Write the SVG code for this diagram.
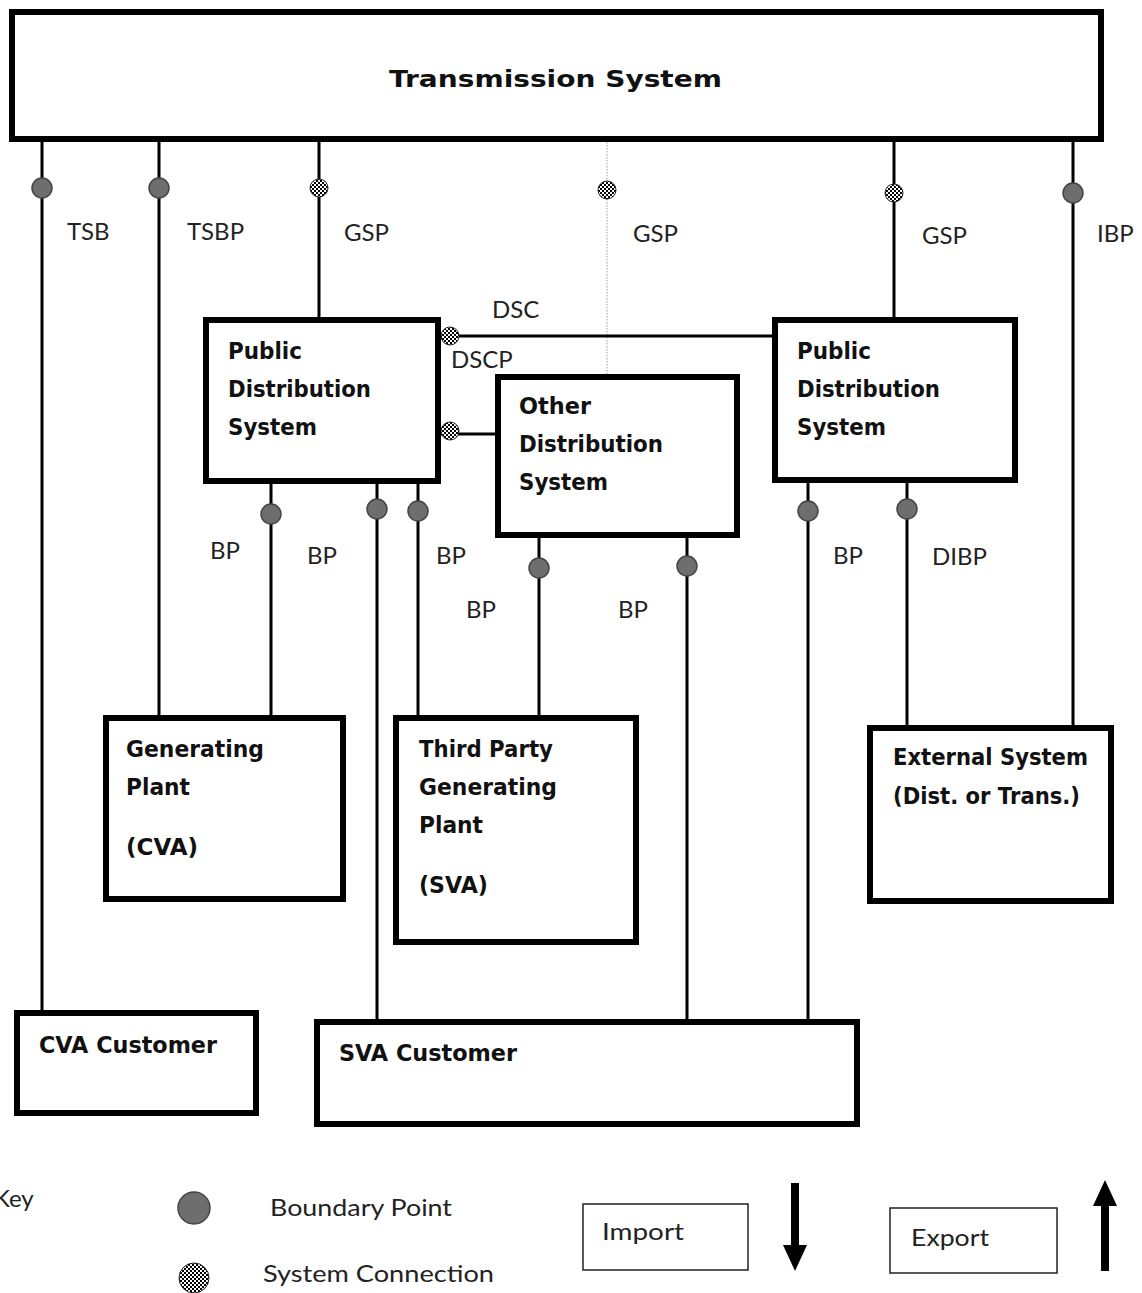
<svg xmlns="http://www.w3.org/2000/svg" width="1142" height="1293" viewBox="0 0 1142 1293">
<defs>
<pattern id="chk" width="4" height="4" patternUnits="userSpaceOnUse">
<rect width="4" height="4" fill="#fff"/>
<rect width="2" height="2" fill="#000"/>
<rect x="2" y="2" width="2" height="2" fill="#000"/>
</pattern>
<style>
.box{fill:#fff;stroke:#000;stroke-width:6}
.t{font-family:"DejaVu Sans","Liberation Sans",sans-serif;font-weight:bold;font-size:23px;fill:#111}
.l{font-family:Lato,"Liberation Sans",sans-serif;font-size:24px;fill:#222}
.ln{stroke:#000;stroke-width:3;fill:none}
.bp{fill:#6e6e6e;stroke:#444;stroke-width:1.5}
.sc{fill:url(#chk);stroke:#222;stroke-width:1}
.kb{fill:#fff;stroke:#222;stroke-width:1.5}
</style>
</defs>
<rect width="1142" height="1293" fill="#fff"/>

<g id="connectors">
<line class="ln" x1="42" y1="139" x2="42" y2="1013"/>
<line class="ln" x1="159" y1="139" x2="159" y2="718"/>
<line class="ln" x1="319" y1="139" x2="319" y2="320"/>
<line x1="607" y1="139" x2="607" y2="377" stroke="#999" stroke-width="1" stroke-dasharray="1.5,1.5"/>
<line class="ln" x1="894" y1="139" x2="894" y2="320"/>
<line class="ln" x1="1073" y1="139" x2="1073" y2="728"/>
<line class="ln" x1="438" y1="336" x2="775" y2="336"/>
<line class="ln" x1="438" y1="434" x2="498" y2="434"/>
<line class="ln" x1="271" y1="481" x2="271" y2="718"/>
<line class="ln" x1="377" y1="481" x2="377" y2="1022"/>
<line class="ln" x1="418" y1="481" x2="418" y2="718"/>
<line class="ln" x1="539" y1="535" x2="539" y2="718"/>
<line class="ln" x1="687" y1="535" x2="687" y2="1022"/>
<line class="ln" x1="808" y1="480" x2="808" y2="1022"/>
<line class="ln" x1="907" y1="480" x2="907" y2="728"/>
<g id="points">
<circle class="bp" cx="42" cy="188" r="10"/>
<circle class="bp" cx="159" cy="188" r="10"/>
<circle class="bp" cx="1073" cy="193" r="10"/>
<circle class="bp" cx="271" cy="514" r="10"/>
<circle class="bp" cx="377" cy="509" r="10"/>
<circle class="bp" cx="418" cy="511" r="10"/>
<circle class="bp" cx="539" cy="568" r="10"/>
<circle class="bp" cx="687" cy="566" r="10"/>
<circle class="bp" cx="808" cy="511" r="10"/>
<circle class="bp" cx="907" cy="509" r="10"/>
<circle class="sc" cx="319" cy="188" r="9"/>
<circle class="sc" cx="607" cy="190" r="9"/>
<circle class="sc" cx="894" cy="193" r="9"/>
<circle class="sc" cx="450" cy="336" r="9"/>
<circle class="sc" cx="450" cy="431" r="9"/>
</g>
<g id="labels">
<text class="l" x="67" y="240">TSB</text>
<text class="l" x="187" y="240">TSBP</text>
<text class="l" x="344" y="241">GSP</text>
<text class="l" x="633" y="242">GSP</text>
<text class="l" x="922" y="244">GSP</text>
<text class="l" x="1097" y="242">IBP</text>
<text class="l" x="492" y="318">DSC</text>
<text class="l" x="451" y="368">DSCP</text>
<text class="l" x="210" y="559">BP</text>
<text class="l" x="307" y="564">BP</text>
<text class="l" x="436" y="564">BP</text>
<text class="l" x="466" y="618">BP</text>
<text class="l" x="618" y="618">BP</text>
<text class="l" x="833" y="564">BP</text>
<text class="l" x="932" y="565">DIBP</text>
</g>
</g>

<g id="transmission">
<rect class="box" x="12" y="12" width="1089" height="127"/>
<text class="t" x="389" y="87" font-size="29" textLength="333" lengthAdjust="spacingAndGlyphs">Transmission System</text>
</g>
<g id="pds-left">
<rect class="box" x="206" y="320" width="232" height="161"/>
<text class="t" x="228" y="359" textLength="74" lengthAdjust="spacingAndGlyphs">Public</text>
<text class="t" x="228" y="397" textLength="143" lengthAdjust="spacingAndGlyphs">Distribution</text>
<text class="t" x="228" y="435" textLength="89" lengthAdjust="spacingAndGlyphs">System</text>
</g>
<g id="pds-right">
<rect class="box" x="775" y="320" width="240" height="160"/>
<text class="t" x="797" y="359" textLength="74" lengthAdjust="spacingAndGlyphs">Public</text>
<text class="t" x="797" y="397" textLength="143" lengthAdjust="spacingAndGlyphs">Distribution</text>
<text class="t" x="797" y="435" textLength="89" lengthAdjust="spacingAndGlyphs">System</text>
</g>
<g id="other-dist">
<rect class="box" x="498" y="377" width="239" height="158"/>
<text class="t" x="519" y="414" textLength="72" lengthAdjust="spacingAndGlyphs">Other</text>
<text class="t" x="519" y="452" textLength="144" lengthAdjust="spacingAndGlyphs">Distribution</text>
<text class="t" x="519" y="490" textLength="89" lengthAdjust="spacingAndGlyphs">System</text>
</g>
<g id="gen-plant">
<rect class="box" x="106" y="718" width="237" height="181"/>
<text class="t" x="126" y="757" textLength="138" lengthAdjust="spacingAndGlyphs">Generating</text>
<text class="t" x="126" y="795" textLength="64" lengthAdjust="spacingAndGlyphs">Plant</text>
<text class="t" x="126" y="855" textLength="72" lengthAdjust="spacingAndGlyphs">(CVA)</text>
</g>
<g id="third-party">
<rect class="box" x="396" y="718" width="240" height="224"/>
<text class="t" x="419" y="757" textLength="134" lengthAdjust="spacingAndGlyphs">Third Party</text>
<text class="t" x="419" y="795" textLength="138" lengthAdjust="spacingAndGlyphs">Generating</text>
<text class="t" x="419" y="833" textLength="64" lengthAdjust="spacingAndGlyphs">Plant</text>
<text class="t" x="419" y="893" textLength="69" lengthAdjust="spacingAndGlyphs">(SVA)</text>
</g>
<g id="external">
<rect class="box" x="870" y="728" width="241" height="173"/>
<text class="t" x="893" y="765" textLength="195" lengthAdjust="spacingAndGlyphs">External System</text>
<text class="t" x="893" y="804" textLength="187" lengthAdjust="spacingAndGlyphs">(Dist. or Trans.)</text>
</g>
<g id="cva-customer">
<rect class="box" x="17" y="1013" width="239" height="100"/>
<text class="t" x="39" y="1053" textLength="178" lengthAdjust="spacingAndGlyphs">CVA Customer</text>
</g>
<g id="sva-customer">
<rect class="box" x="317" y="1022" width="540" height="102"/>
<text class="t" x="339" y="1061" textLength="178" lengthAdjust="spacingAndGlyphs">SVA Customer</text>
</g>

<g id="key">
<text class="l" x="-6" y="1207">Key</text>
<circle class="bp" cx="194" cy="1208" r="16"/>
<text class="l" x="270" y="1216" textLength="182" lengthAdjust="spacingAndGlyphs">Boundary Point</text>
<circle class="sc" cx="194" cy="1278" r="15"/>
<text class="l" x="263" y="1282" textLength="231" lengthAdjust="spacingAndGlyphs">System Connection</text>
<rect class="kb" x="583" y="1204" width="165" height="66"/>
<text class="l" x="602" y="1240" textLength="82" lengthAdjust="spacingAndGlyphs">Import</text>
<rect x="791" y="1183" width="8" height="64" fill="#000"/>
<polygon points="783,1245 807,1245 795,1271" fill="#000"/>
<rect class="kb" x="890" y="1208" width="167" height="65"/>
<text class="l" x="911" y="1246" textLength="78" lengthAdjust="spacingAndGlyphs">Export</text>
<rect x="1101" y="1204" width="8" height="67" fill="#000"/>
<polygon points="1093,1206 1117,1206 1105,1180" fill="#000"/>
</g>
</svg>
